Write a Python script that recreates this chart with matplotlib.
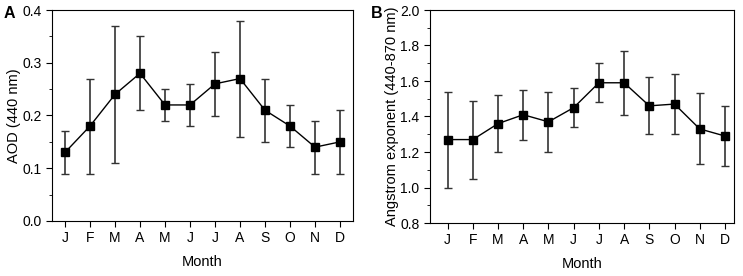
import matplotlib
matplotlib.use("Agg")
import matplotlib.pyplot as plt
from matplotlib.ticker import MultipleLocator

plt.rcParams['font.family'] = ['Liberation Sans', 'DejaVu Sans']

months = ['J', 'F', 'M', 'A', 'M', 'J', 'J', 'A', 'S', 'O', 'N', 'D']

# panel A: AOD (440 nm), mean with lower/upper bar ends
aod = [0.13, 0.18, 0.24, 0.28, 0.22, 0.22, 0.26, 0.27, 0.21, 0.18, 0.14, 0.15]
aod_lo = [0.09, 0.09, 0.11, 0.21, 0.19, 0.18, 0.20, 0.16, 0.15, 0.14, 0.09, 0.09]
aod_hi = [0.17, 0.27, 0.37, 0.35, 0.25, 0.26, 0.32, 0.38, 0.27, 0.22, 0.19, 0.21]

# panel B: Angstrom exponent (440-870 nm)
ae = [1.27, 1.27, 1.36, 1.41, 1.37, 1.45, 1.59, 1.59, 1.46, 1.47, 1.33, 1.29]
ae_lo = [1.00, 1.05, 1.20, 1.27, 1.20, 1.34, 1.48, 1.41, 1.30, 1.30, 1.13, 1.12]
ae_hi = [1.54, 1.49, 1.52, 1.55, 1.54, 1.56, 1.70, 1.77, 1.62, 1.64, 1.53, 1.46]

fig = plt.figure(figsize=(7.43, 2.76), dpi=100)
axA = fig.add_axes([52 / 743, 1 - 221 / 276, 301 / 743, 211 / 276])
axB = fig.add_axes([430 / 743, 1 - 223 / 276, 304 / 743, 213 / 276])

x = list(range(1, 13))


def panel(ax, y, lo, hi):
    err = [[v - l for v, l in zip(y, lo)], [h - v for v, h in zip(y, hi)]]
    ax.errorbar(x, y, yerr=err, fmt='none', ecolor='#333333', elinewidth=1.2,
                capsize=3, capthick=1.0, zorder=2)
    ax.plot(x, y, color='black', lw=1.0, marker='s', ms=6, zorder=3)
    ax.set_xticks(x)
    ax.set_xticklabels(months)
    ax.set_xlabel('Month', fontsize=10.5, labelpad=7)
    ax.tick_params(axis='both', direction='out', labelsize=10, length=4,
                   top=False, right=False)
    ax.tick_params(axis='y', which='minor', direction='out', length=2.5)
    for s in ax.spines.values():
        s.set_linewidth(0.8)


panel(axA, aod, aod_lo, aod_hi)
axA.set_xlim(0.48, 12.52)
axA.set_ylim(0.0, 0.4)
axA.yaxis.set_major_locator(MultipleLocator(0.1))
axA.yaxis.set_minor_locator(MultipleLocator(0.05))
axA.set_ylabel('AOD (440 nm)', fontsize=10.5, labelpad=1)

panel(axB, ae, ae_lo, ae_hi)
axB.set_xlim(0.3, 12.36)
axB.set_ylim(0.8, 2.0)
axB.yaxis.set_major_locator(MultipleLocator(0.2))
axB.yaxis.set_minor_locator(MultipleLocator(0.1))
axB.set_ylabel('Angstrom exponent (440-870 nm)', fontsize=10.5, labelpad=1)

fig.text(4 / 743, 1 - 18 / 276, 'A', fontsize=11.5, fontweight='bold')
fig.text(371 / 743, 1 - 18 / 276, 'B', fontsize=11.5, fontweight='bold')

fig.savefig('out.png', dpi=100)
